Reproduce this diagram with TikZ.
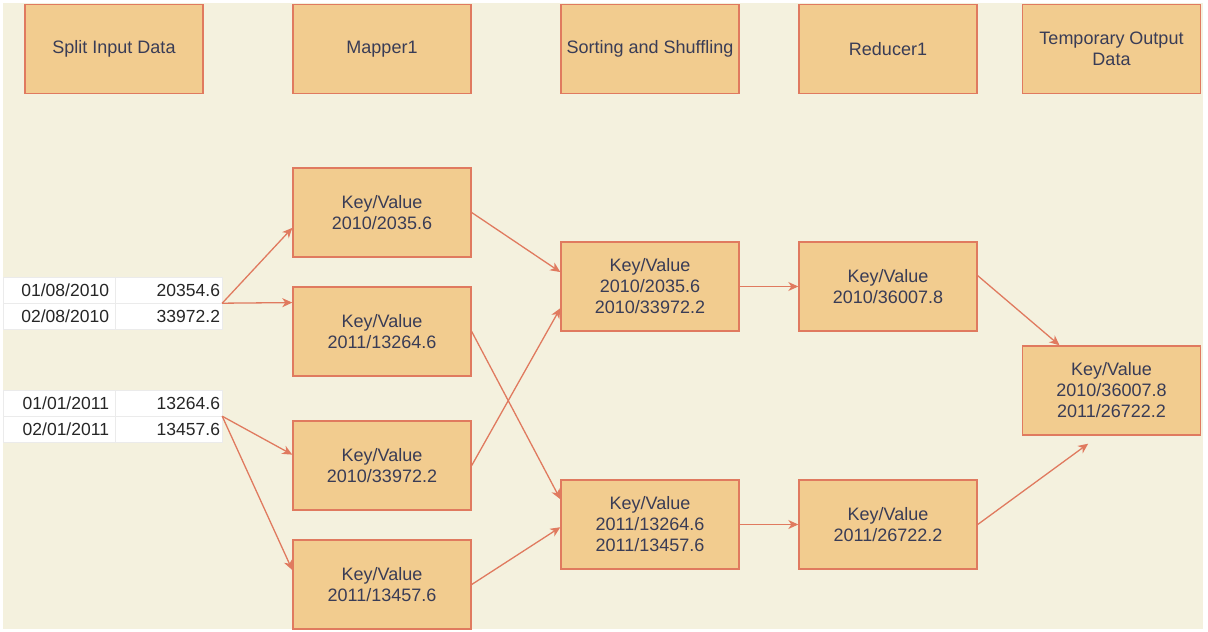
\documentclass[tikz,border=0pt]{standalone}
\usepackage{fontspec}
\setmainfont{Liberation Sans}
\usetikzlibrary{arrows.meta,calc}
\definecolor{boxfill}{HTML}{F2CC8F}
\definecolor{boxline}{HTML}{E07A5F}
\definecolor{boxtext}{HTML}{393C56}
\definecolor{paper}{HTML}{F4F1DE}
\begin{document}
\begin{tikzpicture}[x=1pt,y=-1pt,
  box/.style={rectangle,draw=boxline,fill=boxfill,line width=1.4pt,
    minimum width=178pt,minimum height=89pt,align=center,text=boxtext,
    font=\fontsize{18}{21}\selectfont},
  datecell/.style={rectangle,draw=black!8,fill=white,minimum height=26pt,
    inner xsep=6pt,text width=100pt,align=right,text=black!85,
    font=\fontsize{17.5}{20}\selectfont},
  valcell/.style={datecell,inner xsep=2pt,text width=103pt},
  flow/.style={draw=boxline,line width=1.3pt,
    -{Stealth[length=10pt,width=9pt,inset=3pt]}}]
  \fill[white] (0,0) rectangle (1208,632);
  \fill[paper] (3,3) rectangle (1203,629);
  \node[box] (split) at (114,49) {Split Input Data};
  \node[box] (mapper) at (382,49) {Mapper1};
  \node[box] (sorting) at (650,49) {Sorting and Shuffling};
  \node[box] (reducer) at (888,49) {Reducer1};
  \node[box] (output) at (1111.5,49) {Temporary Output\\Data};
  \node[datecell] (d11) at (59,290) {01/08/2010};
  \node[valcell] (v11) at (168.5,290) {20354.6};
  \node[datecell] (d12) at (59,316) {02/08/2010};
  \node[valcell] (v12) at (168.5,316) {33972.2};
  \node[datecell] (d21) at (59,403) {01/01/2011};
  \node[valcell] (v21) at (168.5,403) {13264.6};
  \node[datecell] (d22) at (59,429) {02/01/2011};
  \node[valcell] (v22) at (168.5,429) {13457.6};
  \node[box] (m1) at (382,212.5) {Key/Value\\2010/2035.6};
  \node[box] (m2) at (382,331.5) {Key/Value\\2011/13264.6};
  \node[box] (m3) at (382,465.5) {Key/Value\\2010/33972.2};
  \node[box] (m4) at (382,584.5) {Key/Value\\2011/13457.6};
  \node[box] (s1) at (650,286.5) {Key/Value\\2010/2035.6\\2010/33972.2};
  \node[box] (s2) at (650,524.5) {Key/Value\\2011/13264.6\\2011/13457.6};
  \node[box] (r1) at (888,286.5) {Key/Value\\2010/36007.8};
  \node[box] (r2) at (888,524.5) {Key/Value\\2011/26722.2};
  \node[box] (o) at (1111.5,390.5) {Key/Value\\2010/36007.8\\2011/26722.2};
  \draw[flow] (v11.south east) -- ($(m1.north west)!0.67!(m1.south west)$);
  \draw[flow] (v11.south east) -- ($(m2.north west)!0.18!(m2.south west)$);
  \draw[flow] (v21.south east) -- ($(m3.north west)!0.38!(m3.south west)$);
  \draw[flow] (v21.south east) -- ($(m4.north west)!0.34!(m4.south west)$);
  \draw[flow] (m1.east) -- ($(s1.north west)!0.34!(s1.south west)$);
  \draw[flow] (m2.east) -- ($(s2.north west)!0.22!(s2.south west)$);
  \draw[flow] (m3.east) -- ($(s1.north west)!0.74!(s1.south west)$);
  \draw[flow] (m4.east) -- ($(s2.north west)!0.53!(s2.south west)$);
  \draw[flow] (s1) -- (r1);
  \draw[flow] (s2) -- (r2);
  \draw[flow] ($(r1.north east)!0.38!(r1.south east)$) -- ($(o.north west)!0.21!(o.north east)$);
  \draw[flow] (r2.east) -- ($(o.south west)!0.37!(o.south east)+(0,8)$);
\end{tikzpicture}
\end{document}
